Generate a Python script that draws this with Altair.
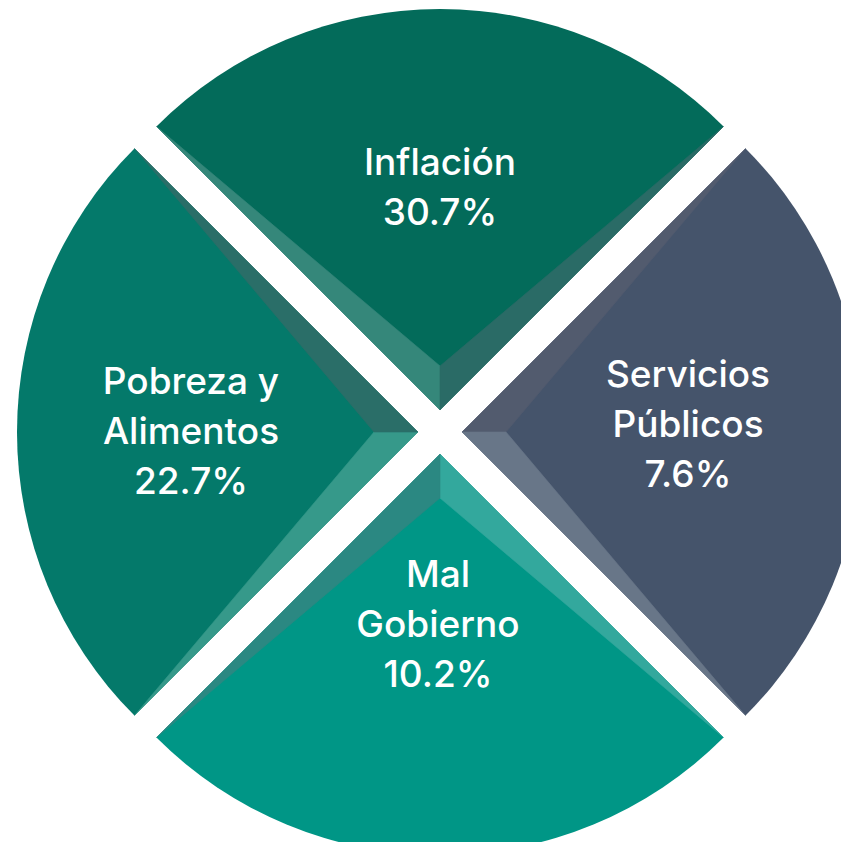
import math
import altair as alt
import pandas as pd

# ---- data ----
categories = ["Inflación", "Servicios Públicos", "Mal Gobierno", "Pobreza y Alimentos"]
label_lines = [["Inflación"], ["Servicios", "Públicos"], ["Mal", "Gobierno"], ["Pobreza y", "Alimentos"]]
percents = [30.7, 7.6, 10.2, 22.7]
face_colors = ["#036B5A", "#45546B", "#009686", "#04796A"]
bevel_a = ["#35877A", "#525B6E", "#33A89D", "#36998A"]
bevel_b = ["#2A6B66", "#687688", "#2B8882", "#2A6E68"]

# ---- layout (pixels) ----
W, H = 833, 834
CX, CY = 432, 424          # circle centre inside the plot
R = 401                    # sector radius
D = 22                     # explode distance
B = 44                     # bevel depth
label_pos = [(0, 257), (248, 45), (-2, -155), (-249, 38)]
LINE = 50

xs = alt.Scale(domain=[-CX, W - CX], range=[0, W], nice=False, zero=False)
ys = alt.Scale(domain=[-(H - CY), CY], range=[H, 0], nice=False, zero=False)

rows = []
feats = []
texts = []
for i, cat in enumerate(categories):
    a = i * math.pi / 2
    px, py = D * math.sin(a), D * math.cos(a)
    fx, fy = (D + B) * math.sin(a), (D + B) * math.cos(a)
    rows.append(dict(cat=cat, t0=a - math.pi / 4, t1=a + math.pi / 4,
                     cx=px, cy=py, col=face_colors[i]))
    for s, col in ((-1, bevel_a[i]), (1, bevel_b[i])):
        kx = px + R * math.sin(a + s * math.pi / 4)
        ky = py + R * math.cos(a + s * math.pi / 4)
        ring = [[px, py], [kx, ky], [fx, fy], [px, py]]
        feats.append({"type": "Feature",
                      "geometry": {"type": "Polygon", "coordinates": [ring]},
                      "properties": {"fill": col}})
    lines = label_lines[i] + [f"{percents[i]:.1f}%"]
    lx, ly = label_pos[i]
    for j, t in enumerate(lines):
        texts.append(dict(t=t, x=lx, y=ly - j * LINE))

sectors = pd.DataFrame(rows)
labels = pd.DataFrame(texts)

arcs = alt.Chart(sectors).mark_arc(radius=R, clip=True).encode(
    x=alt.X("cx:Q", scale=xs, axis=None),
    y=alt.Y("cy:Q", scale=ys, axis=None),
    theta=alt.Theta("t0:Q", scale=None),
    theta2="t1:Q",
    fill=alt.Fill("col:N", scale=None),
)

bevels = alt.Chart(alt.Data(values=feats)).mark_geoshape(strokeWidth=0.6).encode(
    fill=alt.Fill("properties.fill:N", scale=None),
    stroke=alt.Stroke("properties.fill:N", scale=None),
).project(type="identity", reflectY=True, scale=1, translate=[CX, CY])

text = alt.Chart(labels).mark_text(
    font="Inter", fontSize=37, fontWeight=500, color="white",
    align="center", baseline="alphabetic"
).encode(
    x=alt.X("x:Q", scale=xs, axis=None),
    y=alt.Y("y:Q", scale=ys, axis=None),
    text="t:N",
)

chart = alt.layer(arcs, bevels, text).properties(
    width=W, height=H, padding=0,
    autosize=alt.AutoSizeParams(type="none"),
    background="white",
).configure_view(stroke=None)

chart.save("out.html", embed_options={"renderer": "svg", "actions": False})
